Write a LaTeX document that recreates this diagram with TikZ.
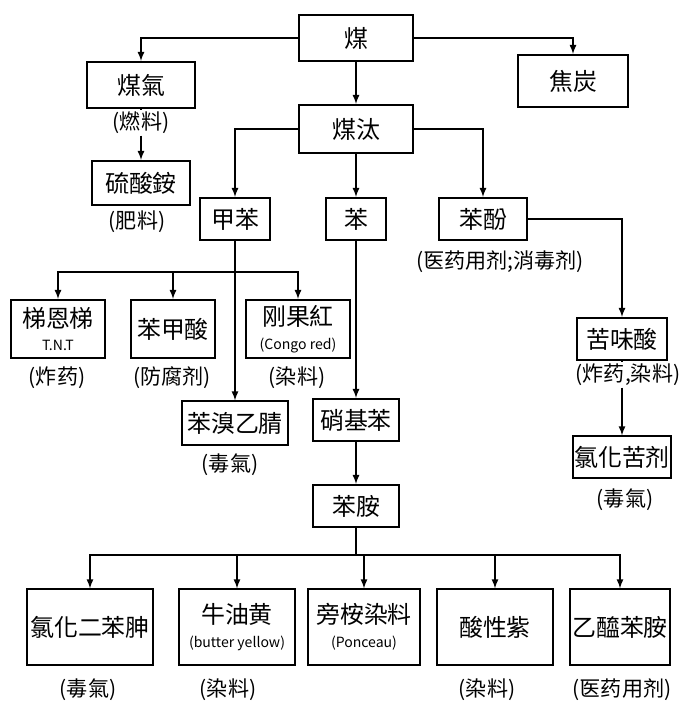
\documentclass[tikz,border=0pt]{standalone}
\usepackage{fontspec}
\setmainfont{Noto Sans CJK TC}
\usetikzlibrary{calc}

\begin{document}
\begin{tikzpicture}[x=0.025cm,y=-0.025cm,
        box/.style={draw, line width=1.5pt, inner sep=1pt, align=center, font=\fontsize{17}{20}\selectfont},
        note/.style={inner sep=1pt, font=\fontsize{15}{18}\selectfont},
        link/.style={line width=1.2pt, -latex}]
        \useasboundingbox (0,0) rectangle (696,704);

        % Coal and its first products
        \node[box, minimum width=2.83cm, minimum height=1.13cm] (coal) at (356,38) {煤};
        \node[box, minimum width=2.7cm, minimum height=1.15cm] (gas) at (141,85) {煤氣};
        \node[box, minimum width=2.75cm, minimum height=1.3cm] (coke) at (573,81) {焦炭};
        \node[box, minimum width=2.83cm, minimum height=1.2cm] (tar) at (356,129) {煤汰};
        \node[note, fill=white] (gasuse) at (141,123) {(燃料)};
        \node[box, minimum width=2.45cm, minimum height=1.1cm] (ammon) at (141,183) {硫酸銨};
        \node[note] (ammonuse) at (137,222) {(肥料)};

        \draw[link] (coal.west) -| (gas.north);
        \draw[link] (coal.east) -| (coke.north);
        \draw[link] (coal.south) -- (tar.north);
        \draw[line width=1.2pt] (gas.south) -- (gasuse.north);
        \draw[link] (gasuse.south) -- (ammon.north);

        % Tar products
        \node[box, minimum width=1.75cm, minimum height=1.05cm] (tol) at (235,219) {甲苯};
        \node[box, minimum width=1.5cm, minimum height=1.05cm] (benz) at (356,219) {苯};
        \node[box, minimum width=2.18cm, minimum height=1.05cm] (phen) at (483,219) {苯酚};
        \node[note] (phenuse) at (500,262) {(医药用剂;消毒剂)};

        \draw[link] (tar.west) -| (tol.north);
        \draw[link] (tar.east) -| (phen.north);
        \draw[link] (tar.south) -- (benz.north);

        % Toluene branch
        \coordinate (tolj) at (235,272);
        \node[box, minimum width=2.33cm, minimum height=1.45cm] (tnt) at (58,329) {梯恩梯\\[-3pt]{\fontsize{10}{12}\selectfont T.N.T}};
        \node[box, minimum width=2.08cm, minimum height=1.45cm] (bzac) at (173,329) {苯甲酸};
        \node[box, minimum width=2.6cm, minimum height=1.45cm] (congo) at (298,329) {刚果紅\\[-3pt]{\fontsize{10}{12}\selectfont (Congo red)}};
        \node[note] (tntuse) at (57,378) {(炸药)};
        \node[note] (bzacuse) at (172,378) {(防腐剂)};
        \node[note] (congouse) at (297,378) {(染料)};
        \node[box, minimum width=2.65cm, minimum height=1.08cm] (bromo) at (235,423) {苯溴乙腈};
        \node[note] (bromouse) at (230,465) {(毒氣)};

        \draw[line width=1.2pt] (tol.south) -- (tolj);
        \draw[link] (tolj) -| (tnt.north);
        \draw[link] (tolj) -| (bzac.north);
        \draw[link] (tolj) -| (congo.north);
        \draw[link] (tolj) -- (bromo.north);

        % Phenol branch
        \node[box, minimum width=2.25cm, minimum height=1.05cm] (picric) at (622,339) {苦味酸};
        \node[note, fill=white] (picricuse) at (628,375) {(炸药,染料)};
        \node[box, minimum width=2.22cm, minimum height=1.03cm] (chlp) at (622,457) {氯化苦剂};
        \node[note] (chlpuse) at (625,500) {(毒氣)};

        \draw[link] (phen.east) -| (picric.north);
        \draw[line width=1.2pt] (picric.south) -- (picric.south |- picricuse.north);
        \draw[link] (picric.south |- picricuse.south) -- (chlp.north);

        % Benzene branch
        \node[box, minimum width=2.15cm, minimum height=1.05cm] (nitro) at (356,420) {硝基苯};
        \node[box, minimum width=2.15cm, minimum height=1.05cm] (anil) at (356,506) {苯胺};
        \coordinate (anilj) at (356,555);

        \draw[link] (benz.south) -- (nitro.north);
        \draw[link] (nitro.south) -- (anil.north);
        \draw[line width=1.2pt] (anil.south) -- (anilj);

        % Aniline products
        \node[box, minimum width=3.13cm, minimum height=1.88cm] (dpa) at (90,627) {氯化二苯胂};
        \node[box, minimum width=2.88cm, minimum height=1.88cm] (butter) at (237,627) {牛油黄\\[-3pt]{\fontsize{10}{12}\selectfont (butter yellow)}};
        \node[box, minimum width=2.8cm, minimum height=1.88cm] (ponc) at (364,627) {旁桉染料\\[-3pt]{\fontsize{10}{12}\selectfont (Ponceau)}};
        \node[box, minimum width=2.88cm, minimum height=1.88cm] (acid) at (495,627) {酸性紫};
        \node[box, minimum width=2.5cm, minimum height=1.88cm] (acet) at (620,627) {乙醯苯胺};
        \node[note] (dpause) at (88,690) {(毒氣)};
        \node[note] (butteruse) at (228,690) {(染料)};
        \node[note] (aciduse) at (487,690) {(染料)};
        \node[note] (acetuse) at (622,690) {(医药用剂)};

        \draw[link] (anilj) -| (dpa.north);
        \draw[link] (anilj) -| (butter.north);
        \draw[link] (anilj) -| (ponc.north);
        \draw[link] (anilj) -| (acid.north);
        \draw[link] (anilj) -| (acet.north);
    \end{tikzpicture}
\end{document}
